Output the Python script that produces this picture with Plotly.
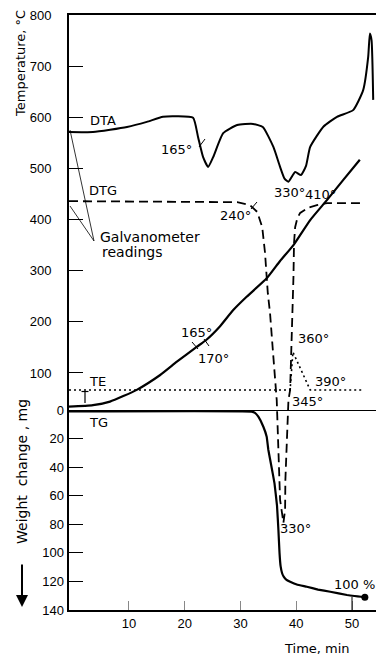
import plotly.graph_objects as go

# ---------------- data (time in min, temperature-scale values in °C, weight in mg) -------------
dta_time = [-0.75, 3.55, 9.65, 13.2, 16.1, 18.6, 21.5, 22.4, 23.3, 24.2, 25.1, 26.9, 29.4, 32.25,
            34.0, 35.9, 37.1, 37.9, 38.6, 39.8, 40.85, 41.75, 42.5, 44.9, 47.3, 50.2, 52.0, 52.9,
            53.2, 53.5, 53.8]
dta_val = [571, 571, 581, 591, 601, 602, 599, 561, 522, 503, 522, 569, 585, 587,
           581, 542, 503, 480, 474, 493, 487, 505, 542, 582, 601, 614, 653, 718,
           764, 751, 634]

dtg_time = [-0.75, 29.4, 31.7, 33.0, 33.9, 34.4, 34.9, 35.3, 35.8, 36.4, 36.5, 36.8, 37.1, 37.7,
            38.0, 38.05, 38.3, 38.6, 38.9, 39.2, 39.35, 39.5, 39.6, 39.8, 40.2, 40.7, 42.1, 43.7,
            45.5, 51.8]
dtg_val = [436, 434, 428, 415, 385, 335, 256, 217, 145, 67, 47, -51, -148, -193,
           -168, -109, -51, 47, 67, 159, 204, 288, 354, 385, 403, 413, 423, 428,
           432, 432]

te_time = [-0.75, 38.9, 39.4, 42.5, 51.8]
te_val = [66.7, 66.7, 141, 66.7, 66.7]

temp_time = [-0.75, 3.55, 6.6, 11.4, 15.6, 18.6, 22.15, 23.9, 26.3, 28.7, 31.1, 34.7, 37.1,
             39.5, 42.5, 45.5, 48.4, 51.4]
temp_val = [34, 37, 44, 67, 96, 122, 151, 165, 191, 223, 249, 285, 319,
            350, 399, 438, 477, 517]

tg_time = [-0.75, 32.0, 32.6, 33.2, 34.1, 34.7, 35.0, 35.5, 36.1, 36.55, 36.8, 37.0, 37.2,
           37.45, 37.75, 38.2, 38.9, 40.1, 41.9, 43.9, 46.1, 49.1, 52.3]
tg_val = [1, 1.1, 2.0, 4.7, 11.7, 18.7, 28, 38.5, 51.3, 67, 84, 100, 109.5,
          114.1, 116.7, 118.7, 120.2, 122.2, 123.7, 125.7, 127.2, 129.5, 131.1]

temp_ticks = [100, 200, 300, 400, 500, 600, 700, 800]
weight_ticks = [0, 20, 40, 60, 80, 100, 120, 140]
time_ticks = [10, 20, 30, 40, 50]

# ---------------- figure -------------
W, H = 380, 663
ML, MR, MT, MB = 69, 4, 15, 53
PW, PH = W - ML - MR, H - MT - MB


def PX(x):
    return (x - ML) / PW


def PY(y):
    return (H - MB - y) / PH


FONT = "DejaVu Sans"
fig = go.Figure()

fig.add_trace(go.Scatter(x=dta_time, y=dta_val, mode="lines",
                         line=dict(color="black", width=2, shape="spline", smoothing=0.5),
                         yaxis="y", hoverinfo="skip"))
fig.add_trace(go.Scatter(x=dtg_time, y=dtg_val, mode="lines",
                         line=dict(color="black", width=1.8, dash="9px,5px"),
                         yaxis="y", hoverinfo="skip"))
fig.add_trace(go.Scatter(x=te_time, y=te_val, mode="lines",
                         line=dict(color="black", width=1.6, dash="2px,3px"),
                         yaxis="y", hoverinfo="skip"))
fig.add_trace(go.Scatter(x=temp_time, y=temp_val, mode="lines",
                         line=dict(color="black", width=2.2, shape="spline", smoothing=0.5),
                         yaxis="y", hoverinfo="skip"))
fig.add_trace(go.Scatter(x=tg_time, y=tg_val, mode="lines",
                         line=dict(color="black", width=2.2, shape="spline", smoothing=0.25),
                         yaxis="y2", hoverinfo="skip"))
fig.add_trace(go.Scatter(x=tg_time[-1:], y=tg_val[-1:], mode="markers",
                         marker=dict(color="black", size=7),
                         yaxis="y2", hoverinfo="skip"))

# ---------------- text labels (pixel positions) -------------
labels = [
    ("DTA", 88, 120, "left", 13),
    ("DTG", 87, 191, "left", 13),
    ("Galvanometer", 98, 237, "left", 14),
    ("readings", 100, 252, "left", 14),
    ("TE", 87, 381, "left", 13),
    ("TG", 87, 422, "left", 13),
    ("165°", 176, 149, "center", 13),
    ("240°", 235, 215, "center", 13),
    ("330°", 289, 192, "center", 13),
    ("410°", 320, 194, "center", 13),
    ("165°", 196, 332, "center", 13),
    ("170°", 213, 359, "center", 13),
    ("360°", 313, 338, "center", 13),
    ("390°", 330, 381, "center", 13),
    ("345°", 307, 401, "center", 13),
    ("330°", 295, 528, "center", 13),
    ("100 %", 354, 584, "center", 13),
    ("Time, min", 317, 648, "center", 13),
]
annotations = []
for txt, x, y, anc, fs in labels:
    annotations.append(dict(text=txt, x=PX(x), y=PY(y), xref="paper", yref="paper",
                            xanchor=anc, yanchor="middle", showarrow=False,
                            font=dict(family=FONT, size=fs, color="black")))

annotations.append(dict(text="Temperature, °C", x=PX(20), y=PY(64), xref="paper", yref="paper",
                        textangle=-90, showarrow=False, xanchor="center", yanchor="middle",
                        font=dict(family=FONT, size=13, color="black")))
annotations.append(dict(text="Weight  change , mg", x=PX(22), y=PY(471), xref="paper", yref="paper",
                        textangle=-90, showarrow=False, xanchor="center", yanchor="middle",
                        font=dict(family=FONT, size=14, color="black")))
annotations.append(dict(text="", x=PX(22), y=PY(607), xref="paper", yref="paper",
                        showarrow=True, ax=0, ay=-44, arrowhead=2, arrowsize=1.2,
                        arrowwidth=2, arrowcolor="black"))

# ---------------- small leader lines / marks (pixel positions) -------------
segments = [
    (70, 130, 94, 241, 0.8),   # galvanometer leader to DTA
    (70, 206, 94, 241, 0.8),   # galvanometer leader to DTG
    (85, 392, 85, 403, 1.2),   # TE marker stem
    (81.5, 391.5, 88.5, 391.5, 1.2),
    (199, 147, 205, 139, 1),   # tick on DTA 165
    (251, 209, 257, 202, 1),   # tick on DTG 240
    (192, 342, 198, 349, 1),   # tick on curve 165
    (204, 339, 209, 346, 1),   # tick on curve 170
    (352, 597, 352, 610, 1),   # 100 % drop line
]
shapes = []
for x0, y0, x1, y1, w in segments:
    shapes.append(dict(type="line", xref="paper", yref="paper",
                       x0=PX(x0), y0=PY(y0), x1=PX(x1), y1=PY(y1),
                       line=dict(color="black", width=w)))

fig.update_layout(
    width=W, height=H, autosize=False,
    margin=dict(l=ML, r=MR, t=MT, b=MB, pad=0),
    paper_bgcolor="white", plot_bgcolor="white",
    showlegend=False,
    font=dict(family=FONT, size=13, color="black"),
    xaxis=dict(range=[-0.75, 54.3], tickvals=time_ticks, ticks="inside", ticklen=9,
               tickcolor="#888", tickwidth=1, showline=True, linecolor="black", linewidth=2,
               mirror=True, showgrid=False, zeroline=False,
               tickfont=dict(family="Liberation Sans", size=13)),
    yaxis=dict(range=[-363.5, 800], tickvals=temp_ticks, ticks="inside", ticklen=14,
               tickcolor="black", tickwidth=1, showline=True, linecolor="black", linewidth=2,
               showgrid=False, zeroline=False, ticklabelstandoff=13,
               tickfont=dict(family="Liberation Sans", size=13)),
    yaxis2=dict(range=[140, -276.5], tickvals=weight_ticks, ticks="inside", ticklen=14,
                tickcolor="black", tickwidth=1, overlaying="y", side="left", anchor="x",
                showline=False, showgrid=False, zeroline=True, zerolinecolor="black",
                zerolinewidth=1, ticklabelstandoff=4,
                tickfont=dict(family="Liberation Sans", size=13)),
    annotations=annotations,
    shapes=shapes,
)

fig.write_html("out.html")
